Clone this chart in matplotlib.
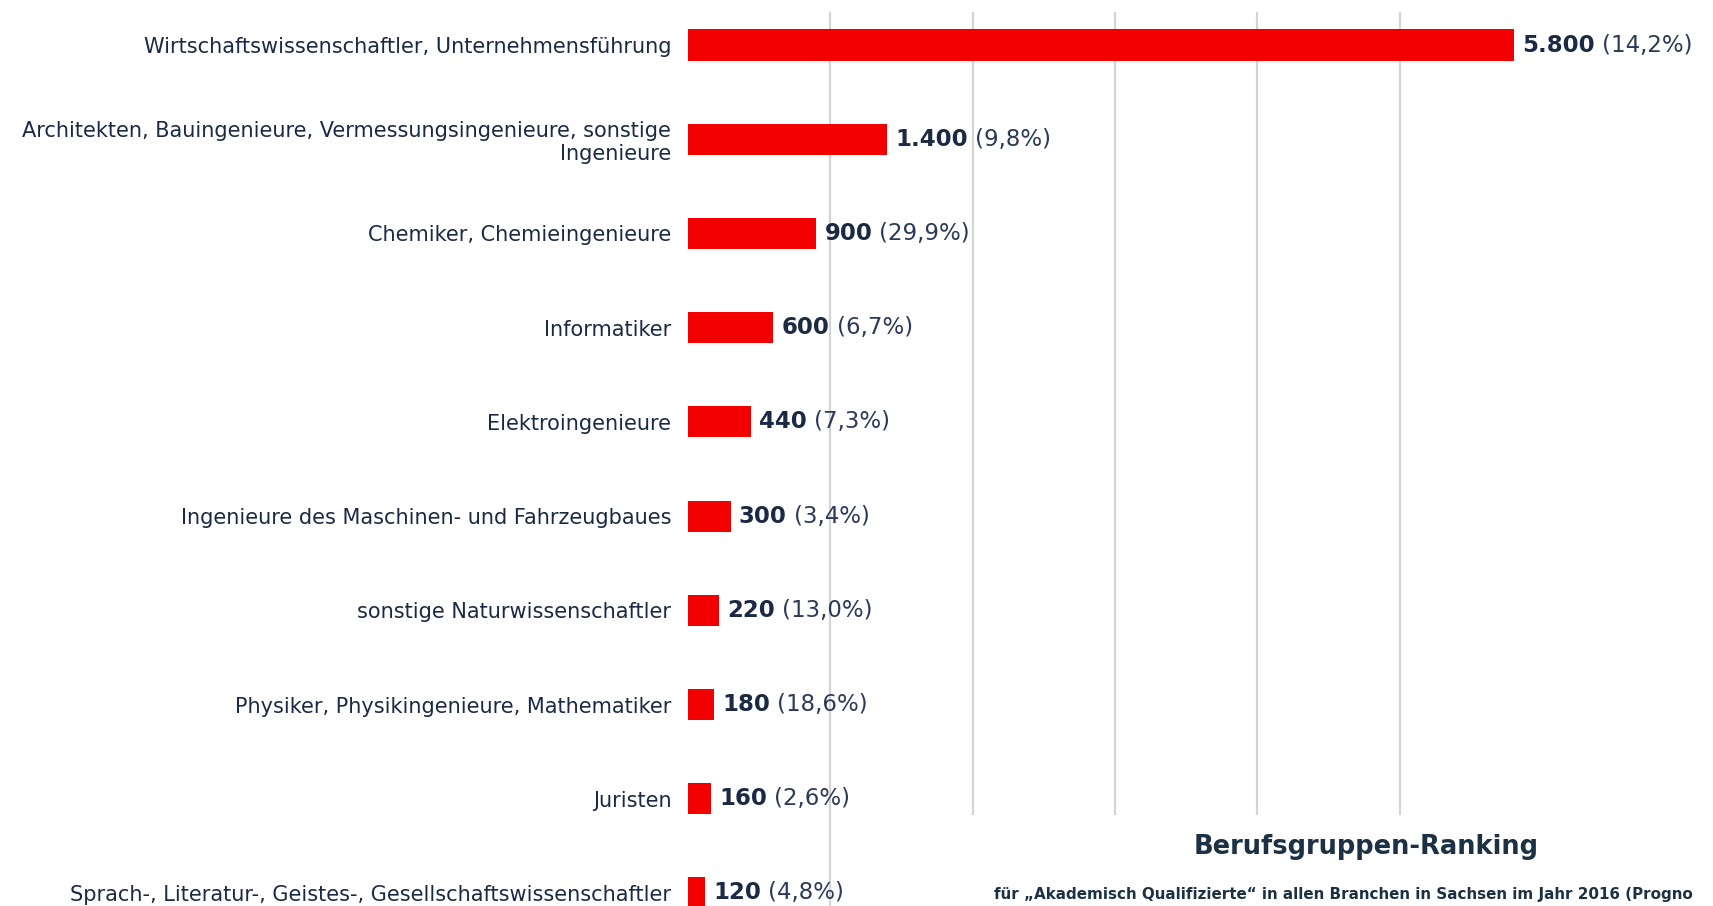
import numpy as np
import matplotlib.pyplot as plt

# Berufsgruppen-Ranking, Akademisch Qualifizierte, Sachsen 2016
categories = [
    'Wirtschaftswissenschaftler, Unternehmensführung',
    'Architekten, Bauingenieure, Vermessungsingenieure, sonstige\nIngenieure',
    'Chemiker, Chemieingenieure',
    'Informatiker',
    'Elektroingenieure',
    'Ingenieure des Maschinen- und Fahrzeugbaues',
    'sonstige Naturwissenschaftler',
    'Physiker, Physikingenieure, Mathematiker',
    'Juristen',
    'Sprach-, Literatur-, Geistes-, Gesellschaftswissenschaftler',
]
values = [5800, 1400, 900, 600, 440, 300, 220, 180, 160, 120]
shares = ['14,2%', '9,8%', '29,9%', '6,7%', '7,3%', '3,4%', '13,0%', '18,6%', '2,6%', '4,8%']
grid_ticks = [1000, 2000, 3000, 4000, 5000]

title = 'Berufsgruppen-Ranking'
# the source image is cropped at the right edge, text ends there
subtitle = 'für „Akademisch Qualifizierte“ in allen Branchen in Sachsen im Jahr 2016 (Progno'

text_col = '#1b2a44'
bar_col = '#f20000'

fig = plt.figure(figsize=(17.13, 9.06), dpi=100)
ax = fig.add_axes([0.4016, 0.0, 0.5984, 1.0])

y = np.arange(len(categories))
ax.barh(y, values, height=0.33, color=bar_col, zorder=3)

# vertical grid lines (first one runs to the bottom)
for i, g in enumerate(grid_ticks):
    ax.axvline(g, ymin=0.0 if i == 0 else 0.1015, ymax=0.9857,
               color='#d4d4d4', lw=1.6, zorder=1)

ax.set_xlim(0, 7200)
ax.set_ylim(9.138, -0.478)
ax.set_xticks([])
ax.set_yticks(y)
ax.set_yticklabels(categories, fontsize=15, color=text_col, ha='right',
                   multialignment='right')
ax.tick_params(axis='y', length=0, pad=12)
for s in ax.spines.values():
    s.set_visible(False)

# value labels: bold number + share in brackets
for yi, v, sh in zip(y, values, shares):
    num = f'{v:,}'.replace(',', '.')
    t = ax.annotate(num, xy=(v, yi), xytext=(6, 0), textcoords='offset points',
                    va='center', ha='left', fontsize=16.5, fontweight='bold',
                    color=text_col, zorder=4)
    ax.annotate(f'({sh})', xy=(1, 0.5), xycoords=t, xytext=(5, 0),
                textcoords='offset points', va='center', ha='left',
                fontsize=16.5, color='#2c3a58', zorder=4)

fig.text(1366 / 1713, 1 - 847 / 906, title, ha='center', va='center',
         fontsize=18.5, fontweight='bold', color='#1c3144')
fig.text(994 / 1713, 1 - 894 / 906, subtitle, ha='left', va='center',
         fontsize=10.9, fontweight='bold', color='#1c3144')

fig.savefig('out.png', dpi=100)
